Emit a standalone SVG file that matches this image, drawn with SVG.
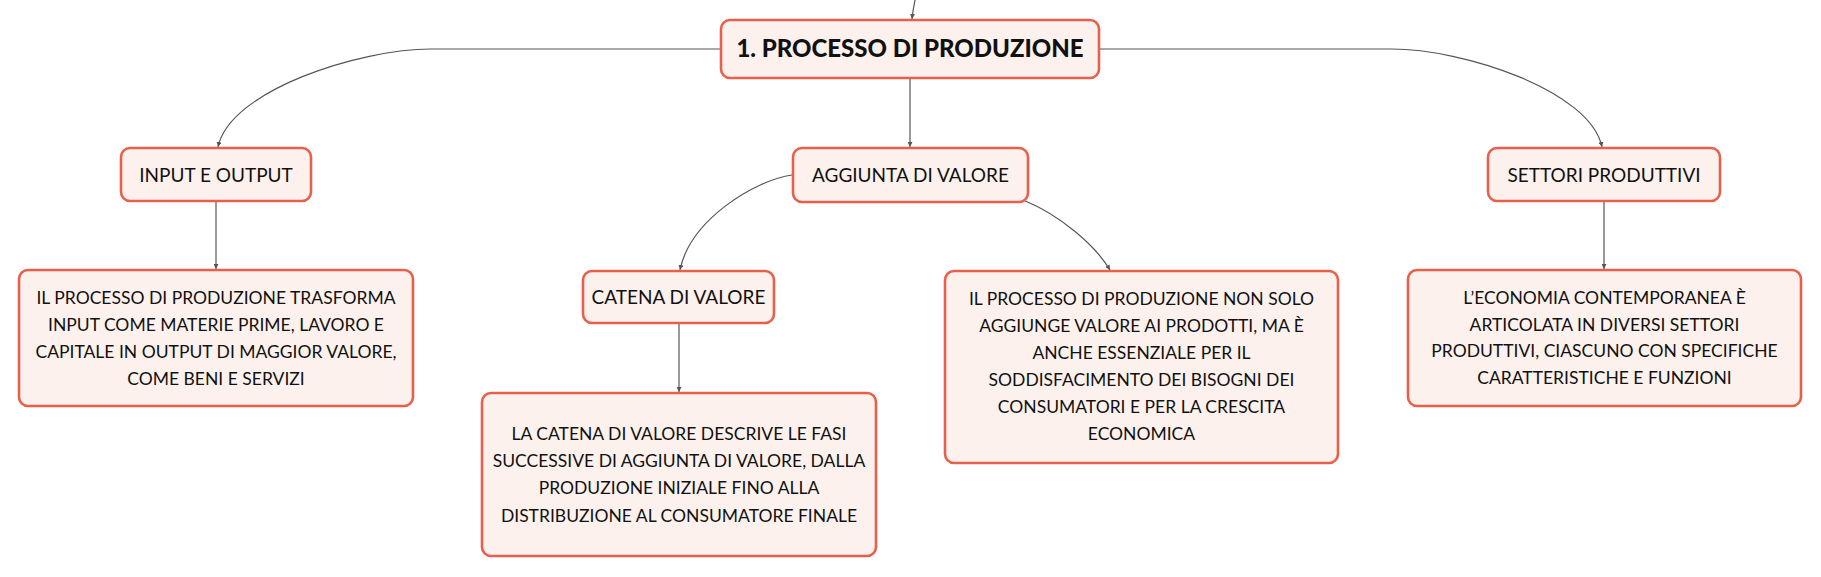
<svg xmlns="http://www.w3.org/2000/svg" width="1821" height="577" viewBox="0 0 1821 577">
<defs>
<style>
.box{fill:#fdf1ed;stroke:#e8604c;stroke-width:2.6}
.t{font-family:Lato,"Noto Sans","DejaVu Sans",sans-serif;fill:#111;text-anchor:middle}
.title{font-size:19px}
.desc{font-size:17.5px}
.root{font-size:24px;font-weight:900}
.c{fill:none;stroke:#555;stroke-width:1.2}
</style>
<marker id="a" viewBox="0 0 6 6" refX="6" refY="3" markerWidth="5" markerHeight="5" orient="auto" markerUnits="userSpaceOnUse">
<path d="M0,0 L6,3 L0,6 z" fill="#555"/>
</marker>
</defs>
<rect width="1821" height="577" fill="#ffffff"/>
<g id="connectors">
<path class="c" d="M915,0 Q913,10 912,19" marker-end="url(#a)"/>
<path class="c" d="M721,49 H431 C360,49 230,90 218,147" marker-end="url(#a)"/>
<path class="c" d="M1099,49 H1392 C1462,49 1590,90 1602,147" marker-end="url(#a)"/>
<path class="c" d="M910,78 V147" marker-end="url(#a)"/>
<path class="c" d="M792,175 C755,180 690,220 680,270" marker-end="url(#a)"/>
<path class="c" d="M1023,200 C1060,215 1095,245 1110,270" marker-end="url(#a)"/>
<path class="c" d="M216,201 V269" marker-end="url(#a)"/>
<path class="c" d="M679,323 V392" marker-end="url(#a)"/>
<path class="c" d="M1604,201 V269" marker-end="url(#a)"/>
</g>
<g id="root">
<rect class="box" x="721" y="20" width="378" height="58" rx="9"/>
<text class="t root" x="910" y="57">1. PROCESSO DI PRODUZIONE</text>
</g>
<g id="input-output">
<rect class="box" x="121" y="148" width="190" height="53" rx="9"/>
<text class="t title" x="216" y="182">INPUT E OUTPUT</text>
</g>
<g id="aggiunta">
<rect class="box" x="793" y="148" width="235" height="54" rx="9"/>
<text class="t title" x="910.5" y="182">AGGIUNTA DI VALORE</text>
</g>
<g id="settori">
<rect class="box" x="1488" y="148" width="232" height="53" rx="9"/>
<text class="t title" x="1604" y="182">SETTORI PRODUTTIVI</text>
</g>
<g id="catena">
<rect class="box" x="583" y="271" width="191" height="52" rx="9"/>
<text class="t title" x="678.5" y="304">CATENA DI VALORE</text>
</g>
<g id="desc-input">
<rect class="box" x="19" y="270" width="394" height="136" rx="9"/>
<text class="t desc" x="216"><tspan x="216" y="303.5">IL PROCESSO DI PRODUZIONE TRASFORMA</tspan><tspan x="216" y="330.5">INPUT COME MATERIE PRIME, LAVORO E</tspan><tspan x="216" y="357.5">CAPITALE IN OUTPUT DI MAGGIOR VALORE,</tspan><tspan x="216" y="384.5">COME BENI E SERVIZI</tspan></text>
</g>
<g id="desc-catena">
<rect class="box" x="482" y="393" width="394" height="163" rx="9"/>
<text class="t desc" x="679"><tspan x="679" y="440">LA CATENA DI VALORE DESCRIVE LE FASI</tspan><tspan x="679" y="467">SUCCESSIVE DI AGGIUNTA DI VALORE, DALLA</tspan><tspan x="679" y="494">PRODUZIONE INIZIALE FINO ALLA</tspan><tspan x="679" y="521.5">DISTRIBUZIONE AL CONSUMATORE FINALE</tspan></text>
</g>
<g id="desc-aggiunta">
<rect class="box" x="945" y="271" width="393" height="192" rx="9"/>
<text class="t desc" x="1141.5"><tspan x="1141.5" y="305">IL PROCESSO DI PRODUZIONE NON SOLO</tspan><tspan x="1141.5" y="331.5">AGGIUNGE VALORE AI PRODOTTI, MA È</tspan><tspan x="1141.5" y="358.5">ANCHE ESSENZIALE PER IL</tspan><tspan x="1141.5" y="386">SODDISFACIMENTO DEI BISOGNI DEI</tspan><tspan x="1141.5" y="412.5">CONSUMATORI E PER LA CRESCITA</tspan><tspan x="1141.5" y="440">ECONOMICA</tspan></text>
</g>
<g id="desc-settori">
<rect class="box" x="1408" y="270" width="393" height="136" rx="9"/>
<text class="t desc" x="1604.5"><tspan x="1604.5" y="303.5">L’ECONOMIA CONTEMPORANEA È</tspan><tspan x="1604.5" y="330.5">ARTICOLATA IN DIVERSI SETTORI</tspan><tspan x="1604.5" y="357">PRODUTTIVI, CIASCUNO CON SPECIFICHE</tspan><tspan x="1604.5" y="384">CARATTERISTICHE E FUNZIONI</tspan></text>
</g>
</svg>
